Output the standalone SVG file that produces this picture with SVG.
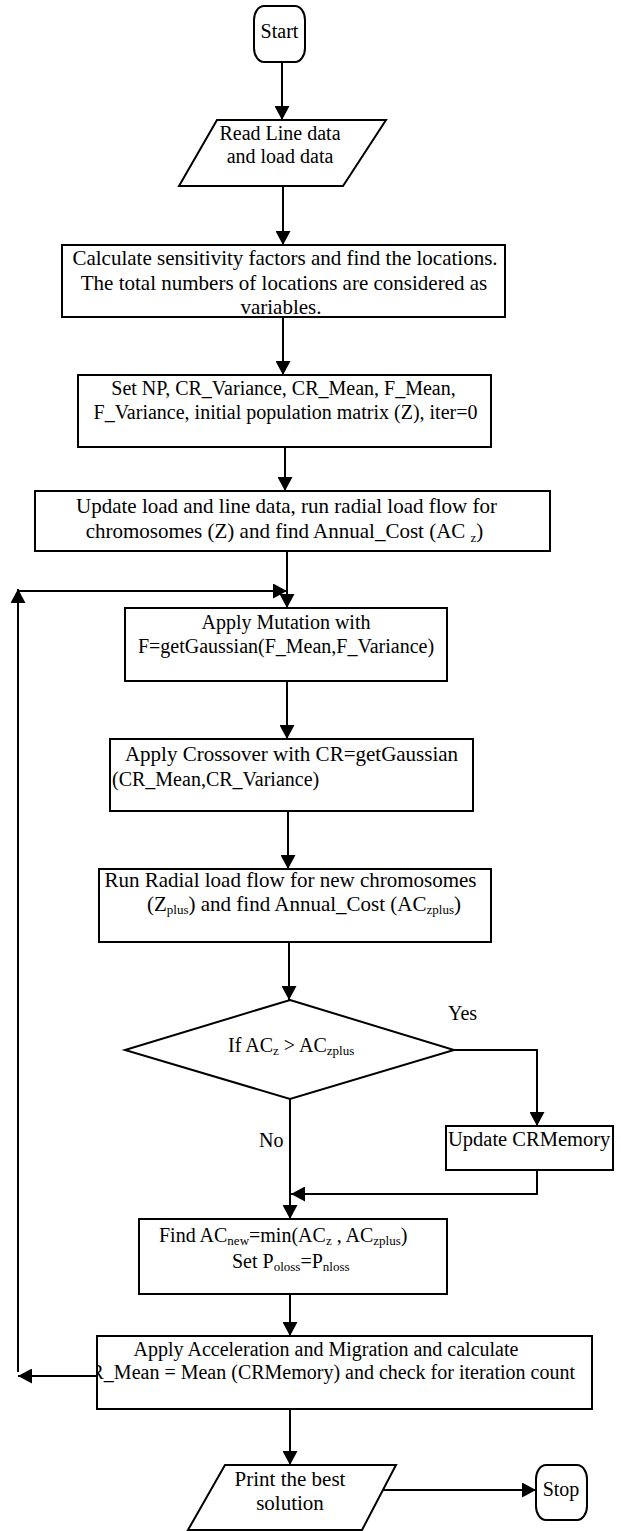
<svg xmlns="http://www.w3.org/2000/svg" width="621" height="1531" viewBox="0 0 621 1531">
<style>
.s{fill:#fff;stroke:#000;stroke-width:2}
.t{font-family:"Liberation Serif","Times New Roman",serif;font-size:20px;fill:#000}
.m{text-anchor:middle}
.c{fill:none;stroke:#000;stroke-width:2}
</style>
<defs>
<marker id="ah" viewBox="0 0 14 15" refX="14" refY="7.5" markerWidth="14" markerHeight="15" markerUnits="userSpaceOnUse" orient="auto">
<path d="M0,0 L14,7.5 L0,15 z" fill="#000"/>
</marker>
<clipPath id="clip10"><rect x="97" y="1336" width="495" height="73"/></clipPath>
</defs>
<rect width="621" height="1531" fill="#fff"/>
<g id="connectors">
<path class="c" d="M282,62 V120" marker-end="url(#ah)"/>
<path class="c" d="M283,186 V245" marker-end="url(#ah)"/>
<path class="c" d="M283,317 V375" marker-end="url(#ah)"/>
<path class="c" d="M285,447 V491" marker-end="url(#ah)"/>
<path class="c" d="M287,551 V608" marker-end="url(#ah)"/>
<path class="c" d="M287,681 V739" marker-end="url(#ah)"/>
<path class="c" d="M288,811 V869" marker-end="url(#ah)"/>
<path class="c" d="M289,942 V1000" marker-end="url(#ah)"/>
<path class="c" d="M454,1050 H537 V1126" marker-end="url(#ah)"/>
<path class="c" d="M290,1099 V1219" marker-end="url(#ah)"/>
<path class="c" d="M537,1170 V1194 H291" marker-end="url(#ah)"/>
<path class="c" d="M290,1294 V1336" marker-end="url(#ah)"/>
<path class="c" d="M97,1376 H18" marker-end="url(#ah)"/>
<path class="c" d="M18,1372 V589" marker-end="url(#ah)"/>
<path class="c" d="M18,591 H287" marker-end="url(#ah)"/>
<path class="c" d="M290,1409 V1465" marker-end="url(#ah)"/>
<path class="c" d="M383,1490 H536" marker-end="url(#ah)"/>
</g>
<g id="start">
<rect class="s" x="254" y="6" width="51" height="56" rx="10" ry="14"/>
<text class="t m" x="279.5" y="38">Start</text>
</g>
<g id="read">
<polygon class="s" points="217,120 386,120 343,186 179,186"/>
<text class="t m" x="280" y="140">Read Line data</text>
<text class="t m" x="280" y="163">and load data</text>
</g>
<g id="sensitivity">
<rect class="s" x="62" y="245" width="443" height="72"/>
<text class="t m" style="font-size:21px" x="285" y="265">Calculate sensitivity factors and find the locations.</text>
<text class="t m" style="font-size:21px" x="284" y="290">The total numbers of locations are considered as</text>
<text class="t m" style="font-size:21px" x="281" y="314">variables.</text>
</g>
<g id="setparams">
<rect class="s" x="78" y="375" width="413" height="72"/>
<text class="t m" x="283.5" y="395">Set NP, CR_Variance, CR_Mean, F_Mean,</text>
<text class="t m" x="285.5" y="419">F_Variance, initial population matrix (Z), iter=0</text>
</g>
<g id="loadflow">
<rect class="s" x="35" y="491" width="515" height="60"/>
<text class="t m" style="font-size:21px" x="286.5" y="513">Update load and line data, run radial load flow for</text>
<text class="t m" style="font-size:21px" x="284.5" y="538">chromosomes (Z) and find  Annual_Cost (AC <tspan font-size="13" dy="4">z</tspan><tspan dy="-4">)</tspan></text>
</g>
<g id="mutation">
<rect class="s" x="125" y="608" width="322" height="73"/>
<text class="t m" x="286" y="629">Apply Mutation with</text>
<text class="t m" x="286" y="653">F=getGaussian(F_Mean,F_Variance)</text>
</g>
<g id="crossover">
<rect class="s" x="110" y="739" width="363" height="72"/>
<text class="t m" style="font-size:21px" x="291.5" y="761">Apply Crossover with CR=getGaussian</text>
<text class="t" x="112" y="786">(CR_Mean,CR_Variance)</text>
</g>
<g id="radial">
<rect class="s" x="99" y="869" width="392" height="73"/>
<text class="t m" style="font-size:21px" x="290.5" y="887">Run Radial load flow for new chromosomes</text>
<text class="t m" style="font-size:21px" x="304" y="911">(Z<tspan font-size="13" dy="3">plus</tspan><tspan dy="-3">) and find Annual_Cost (AC</tspan><tspan font-size="13" dy="3">zplus</tspan><tspan dy="-3">)</tspan></text>
</g>
<g id="decision">
<polygon class="s" points="290,1000 454,1050 290,1099 125,1050"/>
<text class="t" x="228" y="1052">If AC<tspan font-size="13" dy="3">z</tspan><tspan dy="-3">  &gt; AC</tspan><tspan font-size="13" dy="3">zplus</tspan></text>
<text class="t" x="448" y="1020">Yes</text>
<text class="t" x="259" y="1147">No</text>
</g>
<g id="update">
<rect class="s" x="446" y="1126" width="167" height="44"/>
<text class="t" style="font-size:20.5px" x="448" y="1146">Update CRMemory</text>
</g>
<g id="findnew">
<rect class="s" x="139" y="1219" width="308" height="75"/>
<text class="t" x="159" y="1242">Find AC<tspan font-size="13" dy="3">new</tspan><tspan dy="-3">=min(AC</tspan><tspan font-size="13" dy="3">z</tspan><tspan dy="-3">  , AC</tspan><tspan font-size="13" dy="3">zplus</tspan><tspan dy="-3">)</tspan></text>
<text class="t" x="232" y="1268">Set P<tspan font-size="13" dy="3">oloss</tspan><tspan dy="-3">=P</tspan><tspan font-size="13" dy="3">nloss</tspan></text>
</g>
<g id="acceleration">
<rect class="s" x="97" y="1336" width="495" height="73"/>
<g clip-path="url(#clip10)">
<text class="t m" x="326" y="1356">Apply Acceleration and Migration and calculate</text>
<text class="t" style="text-anchor:end" x="575" y="1379">CR_Mean = Mean (CRMemory) and check for iteration count</text>
</g>
</g>
<g id="print">
<polygon class="s" points="225,1465 396,1465 362,1530 188,1530"/>
<text class="t m" style="font-size:21px" x="290" y="1486">Print the best</text>
<text class="t m" style="font-size:21px" x="290" y="1510">solution</text>
</g>
<g id="stop">
<rect class="s" x="536" y="1465" width="51" height="55" rx="10" ry="14"/>
<text class="t m" x="561" y="1496">Stop</text>
</g>
</svg>
